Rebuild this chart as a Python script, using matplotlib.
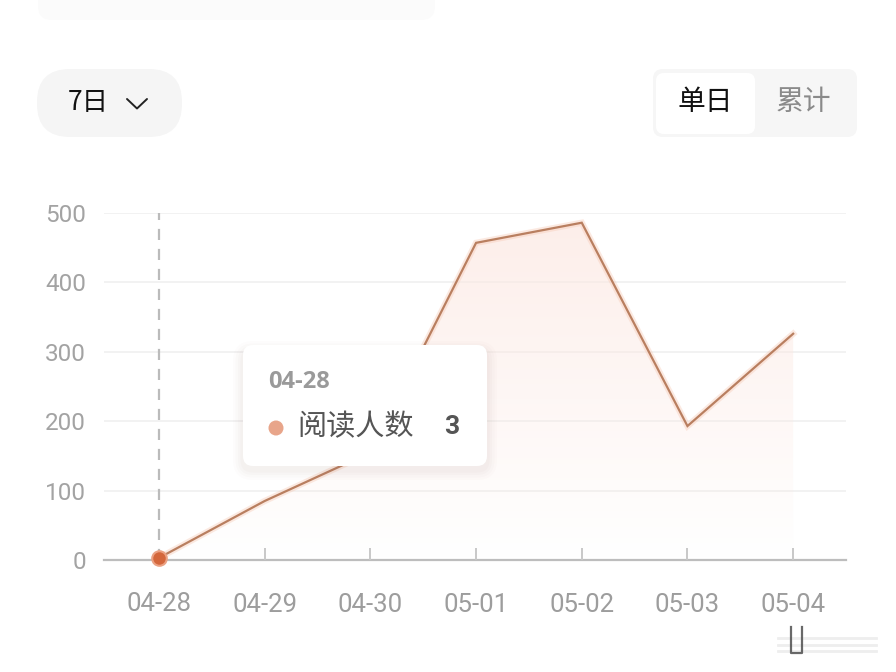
import matplotlib
matplotlib.use("Agg")
import matplotlib.pyplot as plt
import numpy as np
from matplotlib.patches import FancyBboxPatch, Polygon, Circle

# data
dates = ["04-28", "04-29", "04-30", "05-01", "05-02", "05-03", "05-04"]
readers = [3, 85, 155, 457, 486, 193, 326]
yticks = [0, 100, 200, 300, 400, 500]

cjk = ["Noto Sans CJK SC", "DejaVu Sans"]
num = ["Roboto", "DejaVu Sans"]

W, H = 896, 672
fig = plt.figure(figsize=(W / 100, H / 100), dpi=100)
fig.patch.set_facecolor("white")

# chart axes, placed in pixels
def px_rect(x0, y0, x1, y1):
    return [x0 / W, 1 - y1 / H, (x1 - x0) / W, (y1 - y0) / H]

ax = fig.add_axes(px_rect(104, 213, 846, 560))
x = np.arange(len(dates))
y = np.array(readers)

for s in ["top", "right", "left"]:
    ax.spines[s].set_visible(False)
ax.spines["bottom"].set_color("#bdbdbd")
ax.spines["bottom"].set_linewidth(1.6)
ax.spines["bottom"].set_zorder(1)

ax.set_yticks(yticks)
ax.set_yticklabels([str(v) for v in yticks], fontfamily=num, fontsize=17.5, color="#a3a3a3")
ax.tick_params(axis="y", length=0, pad=13)
ax.set_xticks(x[1:])
ax.set_xticklabels(dates[1:], fontfamily=num, fontsize=18.5, color="#9d9d9d")
ax.tick_params(axis="x", direction="in", length=9, width=1.4, color="#c8c8c8", pad=24)
# first label is drawn without a tick (marker sits there)
ax.text(x[0], -32 / 347, dates[0], transform=ax.get_xaxis_transform(), ha="center", va="top",
        fontfamily=num, fontsize=18.5, color="#9d9d9d")

for v in yticks[1:]:
    ax.axhline(v, color="#f1f1f1", lw=1.3, zorder=0)

# gradient fill under line
verts = [(x[0], 0)] + list(zip(x, y)) + [(x[-1], 0)]
poly = Polygon(verts, closed=True, facecolor="none", edgecolor="none")
ax.add_patch(poly)
grad = np.zeros((256, 1, 4))
grad[:, 0, 0] = 0.99
grad[:, 0, 1] = 0.91
grad[:, 0, 2] = 0.89
grad[:, 0, 3] = np.linspace(0.75, 0.0, 256)
im = ax.imshow(grad, extent=[x[0], x[-1], 0, 500], origin="upper", aspect="auto", zorder=1)
im.set_clip_path(poly)
ax.set_xlim(-0.52, 6.5)
ax.set_ylim(0, 500)

# dashed cursor line
ax.plot([x[0], x[0]], [0, 500], color="#bbbbbb", lw=1.6, ls=(0, (5, 4)), zorder=2)

# line with glow
ax.plot(x, y, color="#f7c9b4", lw=4.5, alpha=0.4, zorder=3, solid_joinstyle="miter")
ax.plot(x, y, color="#b97f60", lw=1.6, zorder=4, solid_joinstyle="miter")
ax.scatter([x[0]], [y[0]], s=110, color="#d4673c", edgecolor="#eba183", linewidth=1.5,
           zorder=5, clip_on=False)

# overlay for UI elements in pixel coords
ov = fig.add_axes([0, 0, 1, 1])
ov.set_xlim(0, W)
ov.set_ylim(H, 0)
ov.axis("off")
ov.set_zorder(10)
ov.patch.set_alpha(0)

def rbox(x0, y0, x1, y1, r, fc, z=1, alpha=1.0):
    p = FancyBboxPatch((x0 + r, y0 + r), (x1 - x0) - 2 * r, (y1 - y0) - 2 * r,
                       boxstyle="round,pad=%f" % r, fc=fc, ec="none", zorder=z, alpha=alpha)
    ov.add_patch(p)
    return p

# faint strip at top
rbox(38, -20, 435, 20, 14, "#fbfbfb")

# 7日 pill
rbox(37, 69, 182, 137, 33, "#f5f5f5")
ov.text(68, 102, "7日", fontfamily=cjk, fontsize=19, color="#111111", ha="left", va="center")
ov.plot([127, 137, 147], [99, 108.5, 99], color="#222222", lw=1.4, solid_capstyle="round")

# toggle
rbox(653, 69, 857, 137, 10, "#f6f6f6")
rbox(656, 73, 755, 134, 8, "white", z=2)
ov.text(705, 102, "单日", fontfamily=cjk, fontsize=20, color="#111111", ha="center", va="center", zorder=3)
ov.text(803, 102, "累计", fontfamily=cjk, fontsize=20, color="#8a8a8a", ha="center", va="center", zorder=3)

# tooltip with soft shadow
for i, a in enumerate([0.015, 0.018, 0.022, 0.026]):
    g = 10 - i * 2.5
    rbox(243 - g, 347 - g + 4, 487 + g, 466 + g + 4, 10 + g, "#8a6a60", z=4, alpha=a)
rbox(243, 345, 487, 466, 10, "white", z=5)
ov.text(268, 382, "04-28", fontfamily=["Open Sans", "DejaVu Sans"], fontweight="bold",
        fontsize=17, color="#9a9a9a", ha="left", va="center", zorder=6)
ov.add_patch(Circle((276, 428), 7.5, fc="#e8a58a", ec="none", zorder=6))
ov.text(297, 427, "阅读人数", fontfamily=cjk, fontsize=21, color="#555555", ha="left", va="center", zorder=6)
ov.text(452, 427, "3", fontfamily=num, fontweight="bold", fontsize=19, color="#555555",
        ha="center", va="center", zorder=6)

# faint watermark bits bottom right
for yy in [638, 645, 651]:
    ov.plot([778, 876], [yy, yy], color="#cfcfcf", lw=2.0, alpha=0.35)
ov.plot([791, 791, 802, 802], [627, 653, 653, 627], color="#444444", lw=1.6, alpha=0.8)

fig.savefig("out.png", dpi=100)
